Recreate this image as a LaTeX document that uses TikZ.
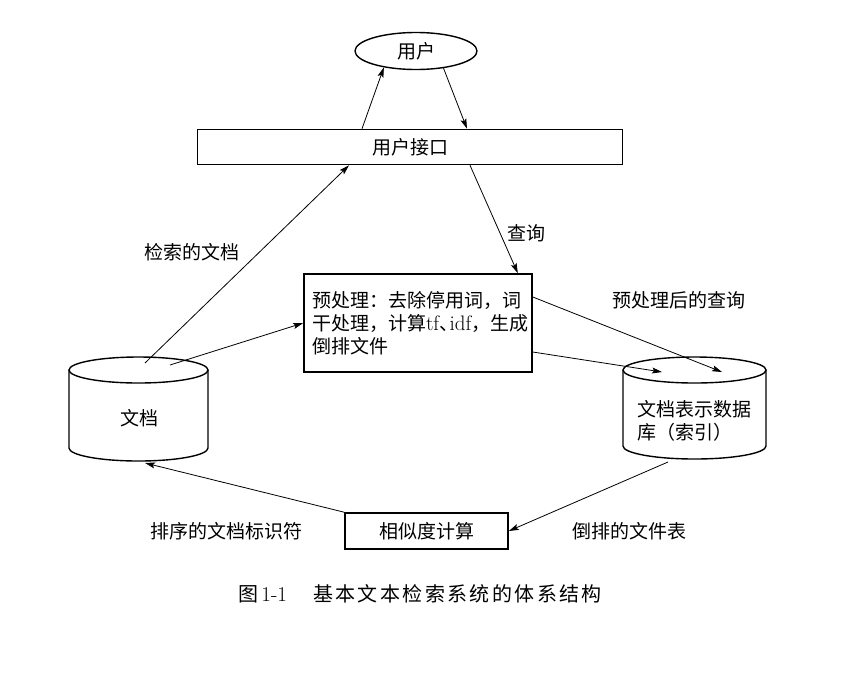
\documentclass[tikz,border=0pt]{standalone}
\usepackage{fontspec}
\usepackage{tikz}
\usetikzlibrary{arrows.meta,shapes.geometric}
\newfontfamily\cjk{Noto Sans CJK SC}
\newfontfamily\cjkcap[LetterSpace=12]{Noto Sans CJK SC}
\newcommand{\lat}[1]{{\rmfamily\fontsize{21}{23}\selectfont #1}}

\tikzset{
    box/.style={draw, line width=1.6pt, inner sep=0pt},
    link/.style={-{Stealth[length=10pt,width=6pt,inset=2pt]}, line width=0.8pt},
    lbl/.style={font=\cjk\fontsize{19}{23}\selectfont, inner sep=0pt},
    drum/.style={line width=1.4pt}
}

\begin{document}
\begin{tikzpicture}[x=1pt, y=1pt]
    \useasboundingbox (0,0) rectangle (866,-673);

    % User and the interface
    \node[ellipse, draw, line width=1.4pt, minimum width=122pt, minimum height=37pt, lbl] (user) at (416,-51) {用户};
    \node[box, minimum width=425pt, minimum height=35pt, lbl] (ui) at (410,-147) {用户接口};

    % Preprocessing
    \node[box, lbl, minimum width=228pt, minimum height=98pt, text width=212pt, inner xsep=8pt, align=left] (prep) at (418,-323)
        {预处理：去除停用词，词\\干处理，计算\lat{tf}\makebox[0.55em][l]{、}\lat{idf}，生成\\倒排文件};

    % Document store (cylinder)
    \draw[drum] (69,-370) -- (69,-448) arc[start angle=180, end angle=360, x radius=69.5pt, y radius=13pt] -- (208,-370);
    \draw[drum] (138.5,-370) ellipse [x radius=69.5pt, y radius=13pt];
    \node[lbl] (doc) at (139,-418) {文档};

    % Index store (cylinder)
    \draw[drum] (623,-370) -- (623,-446) arc[start angle=180, end angle=360, x radius=71.5pt, y radius=13pt] -- (766,-370);
    \draw[drum] (694.5,-370) ellipse [x radius=71.5pt, y radius=13pt];
    \node[lbl, text width=118pt, align=left] (index) at (696,-421) {文档表示数据\\库（索引）};

    % Similarity
    \node[box, minimum width=163pt, minimum height=36pt, lbl] (sim) at (426.5,-531) {相似度计算};

    % End points on the cylinders
    \coordinate (docA) at (145,-363);
    \coordinate (docB) at (170,-365);
    \coordinate (docC) at (145,-463);
    \coordinate (idxA) at (662,-372);
    \coordinate (idxB) at (722,-372);
    \coordinate (idxC) at (668,-462);

    % Connectors
    \draw[link] ([xshift=-48pt]ui.north) -- (user.207);
    \draw[link] (user.328) -- ([xshift=57pt]ui.north);
    \draw[link] (docA) -- ([xshift=-61pt]ui.south);
    \draw[link] ([xshift=60pt]ui.south) -- ([xshift=-15pt]prep.north east);
    \draw[link] (docB) -- (prep.west);
    \draw[link] ([yshift=-29pt]prep.east) -- (idxA);
    \draw[link] ([yshift=26pt]prep.east) -- (idxB);
    \draw[link] (idxC) -- (sim.east);
    \draw[link] (sim.north west) -- (docC);

    % Labels
    \node[lbl] (lretr) at (192,-252) {检索的文档};
    \node[lbl] (lquery) at (526,-233) {查询};
    \node[lbl] (lpq) at (679,-300) {预处理后的查询};
    \node[lbl] (lsorted) at (226,-531) {排序的文档标识符};
    \node[lbl] (linv) at (629,-531) {倒排的文件表};

    % Caption
    \node[font=\cjkcap\fontsize{20}{24}\selectfont, inner sep=0pt] (cap) at (420,-594)
        {图\,\lat{1-1}\hspace{1.3em}基本文本检索系统的体系结构};
\end{tikzpicture}
\end{document}
